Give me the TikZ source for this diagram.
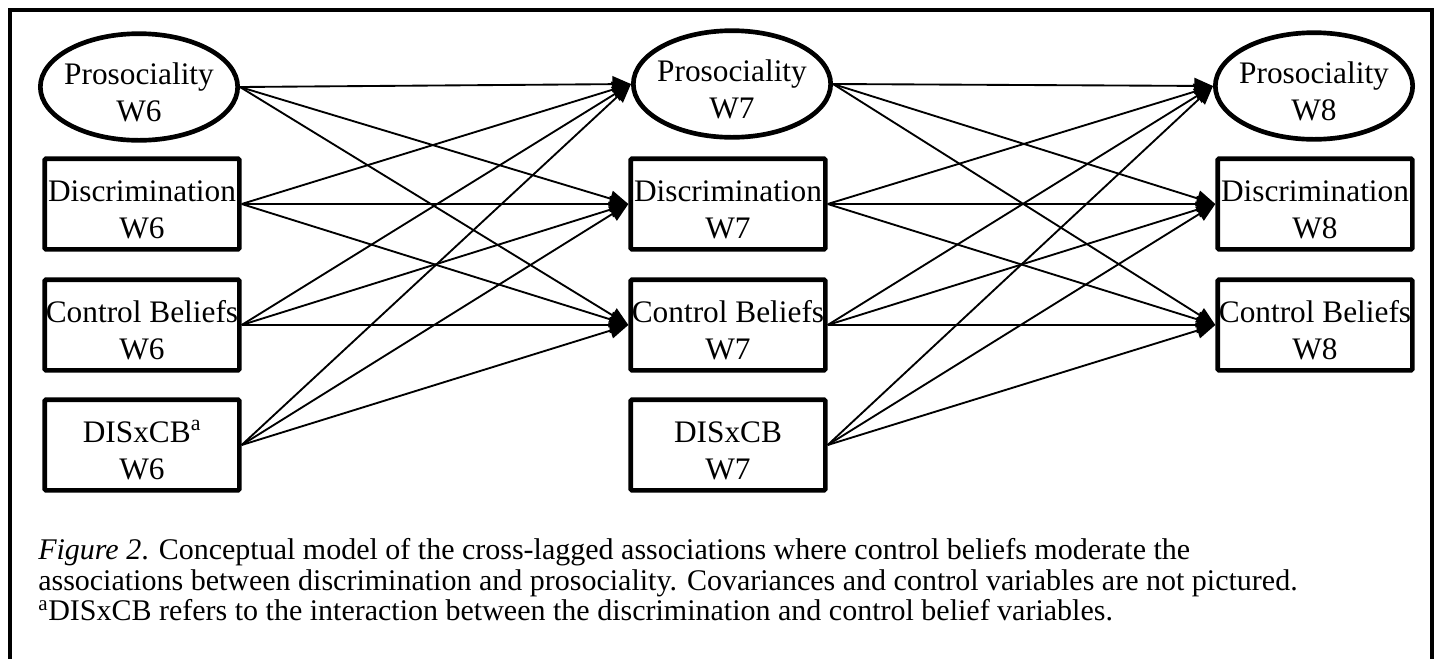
\documentclass[tikz,border=0pt]{standalone}
\usepackage{fontspec}
\setmainfont{Liberation Serif}
\usetikzlibrary{arrows.meta, shapes.geometric}

% two centred lines that may run past the box edges
\newcommand{\varlab}[2]{\makebox[90pt]{\rule{0pt}{24pt}#1}\\\makebox[90pt]{#2}}

\begin{document}
\begin{tikzpicture}[x=0.75pt, y=-0.75pt,
  latent/.style={draw, shape=ellipse, line width=3.5pt, minimum width=148pt, minimum height=80pt, inner sep=0pt, align=center, font=\fontsize{23.5}{27.75}\selectfont},
  observed/.style={draw, shape=rectangle, rounded corners=1pt, line width=3.5pt, minimum width=146pt, minimum height=68pt, inner sep=0pt, align=center, font=\fontsize{23.5}{27.75}\selectfont},
  path/.style={-{Triangle[length=14pt, width=12pt]}, line width=1.4pt},
  frame/.style={line width=3.5pt}]

\useasboundingbox (0,0) rectangle (1441,658);
\draw[frame] (10,10) rectangle (1432,700);

\node[latent] (p6) at (139,87) {\varlab{Prosociality}{W6}};
\node[observed] (d6) at (142,204) {\varlab{Discrimination}{W6}};
\node[observed] (c6) at (142,325) {\varlab{Control Beliefs}{W6}};
\node[observed] (x6) at (142,445) {\varlab{DISxCB\textsuperscript{a}}{W6}};

\node[latent] (p7) at (732,84) {\varlab{Prosociality}{W7}};
\node[observed] (d7) at (728,204) {\varlab{Discrimination}{W7}};
\node[observed] (c7) at (728,325) {\varlab{Control Beliefs}{W7}};
\node[observed] (x7) at (728,445) {\varlab{DISxCB}{W7}};

\node[latent] (p8) at (1314,86) {\varlab{Prosociality}{W8}};
\node[observed] (d8) at (1315,204) {\varlab{Discrimination}{W8}};
\node[observed] (c8) at (1315,325) {\varlab{Control Beliefs}{W8}};

%W6 to W7
\draw[path] (p6.east) -- (p7.west);
\draw[path] (p6.east) -- (d7.west);
\draw[path] (p6.east) -- (c7.west);
\draw[path] (d6.east) -- (p7.west);
\draw[path] (d6.east) -- (d7.west);
\draw[path] (d6.east) -- (c7.west);
\draw[path] (c6.east) -- (p7.west);
\draw[path] (c6.east) -- (d7.west);
\draw[path] (c6.east) -- (c7.west);
\draw[path] (x6.east) -- (p7.west);
\draw[path] (x6.east) -- (d7.west);
\draw[path] (x6.east) -- (c7.west);

%W7 to W8
\draw[path] (p7.east) -- (p8.west);
\draw[path] (p7.east) -- (d8.west);
\draw[path] (p7.east) -- (c8.west);
\draw[path] (d7.east) -- (p8.west);
\draw[path] (d7.east) -- (d8.west);
\draw[path] (d7.east) -- (c8.west);
\draw[path] (c7.east) -- (p8.west);
\draw[path] (c7.east) -- (d8.west);
\draw[path] (c7.east) -- (c8.west);
\draw[path] (x7.east) -- (p8.west);
\draw[path] (x7.east) -- (d8.west);
\draw[path] (x7.east) -- (c8.west);

\node[anchor=north west, inner sep=0pt, align=left, font=\fontsize{22.5}{23}\selectfont] (cap) at (38,538)
  {\textit{Figure 2}. Conceptual model of the cross-lagged associations where control beliefs moderate the\\
   associations between discrimination and prosociality. Covariances and control variables are not pictured.\\
   \textsuperscript{a}DISxCB refers to the interaction between the discrimination and control belief variables.};

\end{tikzpicture}
\end{document}
